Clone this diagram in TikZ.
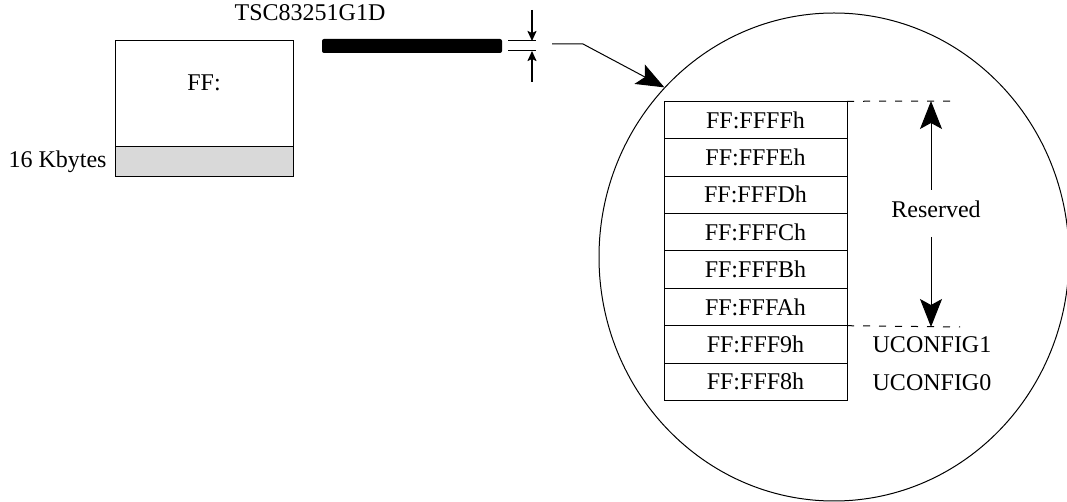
\documentclass[tikz,border=0pt]{standalone}
\usepackage{fontspec}
\setmainfont{Liberation Serif}
\usetikzlibrary{positioning, shapes.geometric, arrows.meta}
\tikzstyle{cell} = [rectangle, draw=black, minimum width=91.5pt, minimum height=18.7pt, inner sep=0pt, outer sep=0pt, text centered]
\tikzstyle{lens} = [ellipse, draw=black, minimum width=235pt, minimum height=244pt, inner sep=0pt]
\tikzstyle{bigarrow} = [-{Stealth[length=14pt, width=11pt, inset=3pt]}]
\tikzstyle{dimarrow} = [line width=0.9pt, -{Stealth[length=5pt, width=4.5pt, inset=1pt]}]
\tikzstyle{guide} = [dash pattern=on 3.5pt off 4.5pt]

\begin{document}
\begin{tikzpicture}[x=0.5pt, y=-0.5pt, node distance=0pt, font=\fontsize{12}{14}\selectfont, line width=0.5pt]
        \useasboundingbox (0,0) rectangle (1067,502);

        % device and part number
        \draw (115,41) rectangle (293,177);
        \filldraw[fill=gray!30] (115,147) rectangle (293,177);
        \node                                                  (ff)      at (204,83)  {FF:};
        \node[anchor=east, inner sep=0pt]                      (size)    at (107,162) {16 Kbytes};
        \node                                                  (chip)    at (310,13)  {TSC83251G1D};
        \fill[rounded corners=1pt] (322,39) rectangle (502,53);

        % thickness mark
        \draw (508,41) -- (536,41);
        \draw (508,51) -- (536,51);
        \coordinate (dim a) at (532,10);
        \coordinate (dim b) at (532,41);
        \coordinate (dim c) at (532,82);
        \coordinate (dim d) at (532,51);
        \draw[dimarrow] (dim a) -- (dim b);
        \draw[dimarrow] (dim c) -- (dim d);

        % magnified view
        \node[lens]                                            (zoom)    at (834,257) {};
        \coordinate (lead a) at (552,44);
        \coordinate (lead b) at (583,44);
        \draw[bigarrow] (lead a) -- (lead b) -- (zoom.135);

        \node[cell]                                            (row 0)   at (755.5,120) {FF:FFFFh};
        \node[cell, below=of row 0]                            (row 1)   {FF:FFFEh};
        \node[cell, below=of row 1]                            (row 2)   {FF:FFFDh};
        \node[cell, below=of row 2]                            (row 3)   {FF:FFFCh};
        \node[cell, below=of row 3]                            (row 4)   {FF:FFFBh};
        \node[cell, below=of row 4]                            (row 5)   {FF:FFFAh};
        \node[cell, below=of row 5]                            (row 6)   {FF:FFF9h};
        \node[cell, below=of row 6]                            (row 7)   {FF:FFF8h};

        \node                                                  (reserved) at (936,209) {Reserved};
        \node                                                  (cfg 1)   at (932,345) {UCONFIG1};
        \node                                                  (cfg 0)   at (932,383) {UCONFIG0};

        \coordinate (top end) at (957,101);
        \coordinate (low end) at (960,327);
        \draw[guide] (row 0.north east) -- (top end);
        \draw[guide] (row 5.south east) -- (low end);

        \coordinate (up from) at (931,190);
        \coordinate (up to)   at (931,101);
        \coordinate (dn from) at (931,237);
        \coordinate (dn to)   at (931,327);
        \draw[bigarrow] (up from) -- (up to);
        \draw[bigarrow] (dn from) -- (dn to);
    \end{tikzpicture}
\end{document}
